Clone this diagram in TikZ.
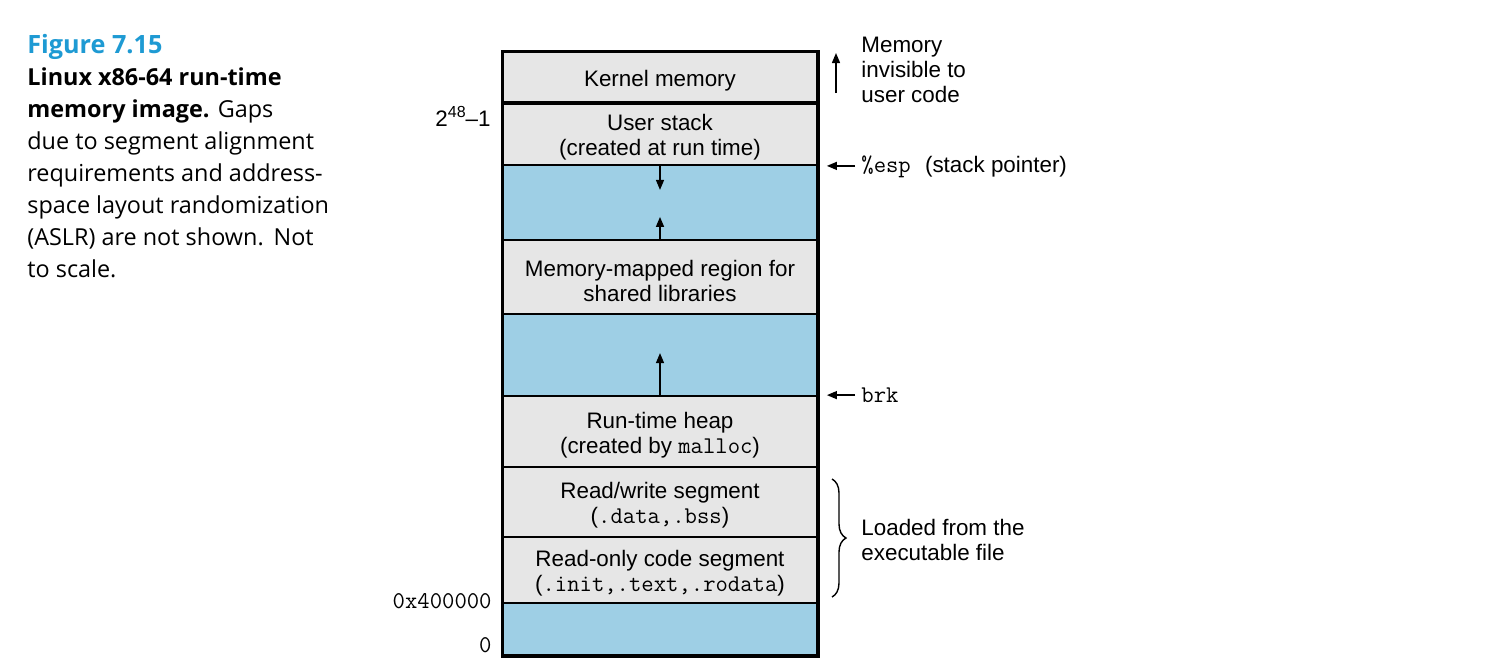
\documentclass[tikz,border=0pt]{standalone}
\usepackage{fontspec}
\setmainfont{Liberation Sans}
\newfontfamily\captionfont{Open Sans}
\usepackage{xcolor}
\usepackage{tikz}
\usetikzlibrary{positioning,arrows.meta,calc,decorations.pathreplacing}

\definecolor{seggray}{RGB}{230,230,230}
\definecolor{segblue}{RGB}{158,207,229}
\definecolor{figblue}{RGB}{30,154,211}

\newcommand{\code}[1]{{\fontsize{12}{12.5}\selectfont\ttfamily #1}}

\tikzset{
  seg/.style={draw=black, line width=0.9pt, minimum width=157pt, inner sep=0pt},
  segtext/.style={align=center, inner sep=0pt, yshift=-1.8pt,
                  font=\fontsize{11.2}{12.5}\selectfont},
  lbl/.style={align=left, inner sep=0pt, font=\fontsize{11.2}{12.5}\selectfont},
  ptr/.style={line width=0.7pt, -{Triangle[length=5pt,width=4pt]}},
  curly/.style={decorate, decoration={brace, amplitude=7pt}, line width=0.7pt},
}

\begin{document}
\begin{tikzpicture}[x=0.5pt, y=-0.5pt]
    \useasboundingbox (0,0) rectangle (1506,670);

    % Caption
    \node[anchor=north west, inner sep=0pt, align=left,
          font=\captionfont\fontsize{11.7}{16}\selectfont] (caption) at (27,34)
        {{\color{figblue}\bfseries\fontsize{12.6}{16}\selectfont Figure 7.15}\\
         \textbf{Linux x86-64 run-time}\\
         \textbf{memory image.} Gaps\\
         due to segment alignment\\
         requirements and address-\\
         space layout randomization\\
         (ASLR) are not shown.\ \,Not\\
         to scale.};

    % Segments, top to bottom
    \foreach \top/\bot/\col/\name/\txt in {
        52/102/seggray/kernel/{Kernel memory},
        102/165/seggray/stack/{User stack\\(created at run time)},
        165/240/segblue/gapa/{},
        240/314/seggray/mmap/{Memory-mapped region for\\shared libraries},
        314/396/segblue/gapb/{},
        396/467/seggray/heap/{Run-time heap\\(created by \code{malloc})},
        467/537/seggray/rwseg/{Read/write segment\\(\code{.data,.bss})},
        537/603/seggray/roseg/{Read-only code segment\\(\code{.init,.text,.rodata})},
        603/655/segblue/gapc/{}}
        \node[seg, fill=\col, minimum height={(\bot-\top)*0.5pt},
              label={[segtext]center:{\txt}}]
            (\name) at (660,{(\top+\bot)/2}) {};
    \draw[line width=1.6pt] (kernel.north west) rectangle (gapc.south east);
    \draw[line width=2.4pt] (kernel.south west) -- (kernel.south east);

    % Growth arrows
    \coordinate[below=12pt of stack.south] (stackend);
    \coordinate[above=12pt of gapa.south] (mmapend);
    \coordinate[above=21pt of heap.north] (heapend);
    \draw[ptr] (stack.south) -- (stackend);
    \draw[ptr] (mmap.north) -- (mmapend);
    \draw[ptr] (heap.north) -- (heapend);

    % Addresses
    \node[lbl, anchor=east] (topaddr) at (491,116)
        {2\raisebox{0.75ex}{\fontsize{8}{8}\selectfont 48}–1};
    \node[lbl, anchor=east] (codeaddr) at (492,601) {\code{0x400000}};
    \node[lbl, anchor=east] (zeroaddr) at (492,645) {\code{0}};

    % Right-hand notes
    \node[lbl, anchor=west] (invis) at (861,70) {Memory\\invisible to\\user code};
    \coordinate (invbase) at (836,93);
    \coordinate (invtip) at (836,53);
    \draw[ptr] (invbase) -- (invtip);

    \node[lbl, anchor=base west] (esp) at (861,172) {\code{\%esp}\hspace{4pt} (stack pointer)};
    \draw[ptr, shorten <=3pt, shorten >=4.5pt] (esp.west |- stack.south east) -- (stack.south east);

    \node[lbl, anchor=west] (brk) at (861,395) {\code{brk}};
    \draw[ptr, shorten <=3pt, shorten >=4.5pt] (brk.west |- heap.north east) -- (heap.north east);

    \coordinate (bracetop) at (832,479);
    \coordinate (bracebot) at (832,597);
    \draw[curly] (bracetop) -- (bracebot);
    \node[lbl, anchor=west] (loaded) at (861,540) {Loaded from the\\executable file};
\end{tikzpicture}
\end{document}
